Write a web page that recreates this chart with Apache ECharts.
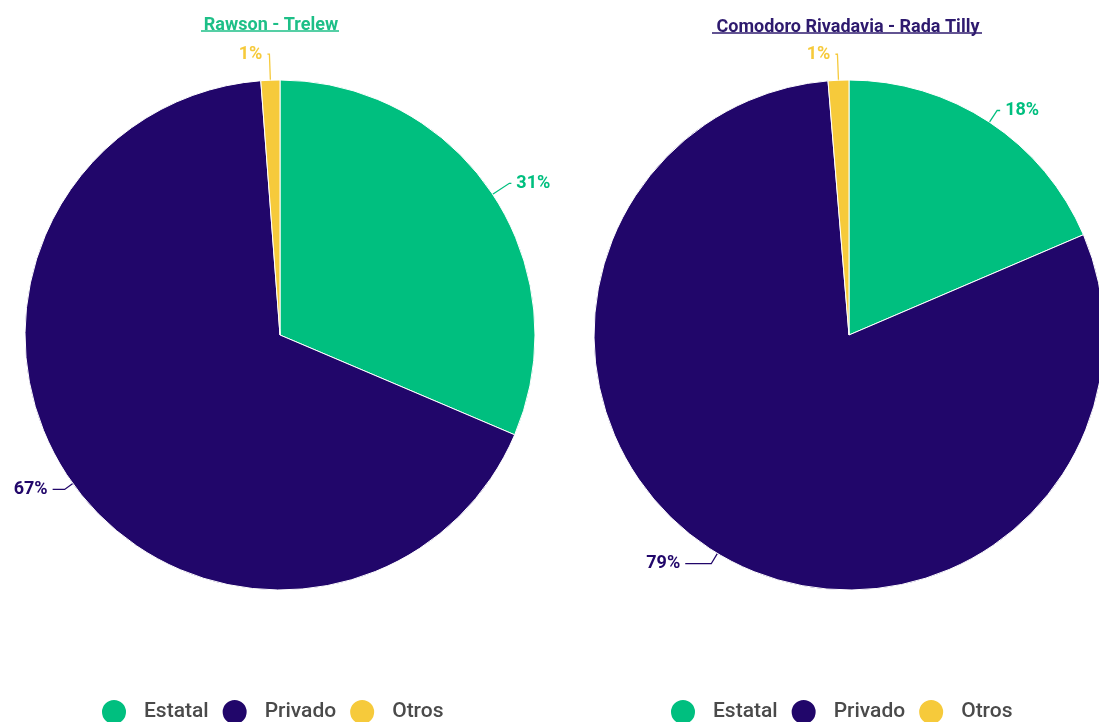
<!DOCTYPE html>
<html><head><meta charset="utf-8">
<script src="https://cdn.jsdelivr.net/npm/echarts@6/dist/echarts.min.js"></script>
<style>html,body{margin:0;padding:0;background:#fff}#c{width:1099px;height:722px}</style>
</head><body><div id="c"></div>
<script>
const categories = ['Estatal', 'Privado', 'Otros'];
const colors = ['#00BF7F', '#21066A', '#F6CA3B'];
const rawsonValues = [31.4, 67.4, 1.2];
const comodoroValues = [18.4, 79.4, 1.3];
const titles = ['Rawson - Trelew', 'Comodoro Rivadavia - Rada Tilly'];

const chart = echarts.init(document.getElementById('c'));
function mkData(vals, lines){
  return categories.map((n,i)=>({name:n, value:vals[i],
    itemStyle:{color:colors[i]},
    label:{color:colors[i]},
    labelLine:Object.assign({lineStyle:{color:colors[i]}}, lines[i])
  }));
}
const font = 'Roboto, sans-serif';
function mkSeries(vals, cx, lines){
  return {
    type:'pie', radius:255, center:[cx, 335], startAngle:90, clockwise:true,
    data: mkData(vals, lines),
    itemStyle:{borderColor:'#fff', borderWidth:1},
    label:{show:true, position:'outside', formatter:p=>Math.round(p.value)+'%',
      fontFamily:font, fontWeight:'bold', fontSize:18},
    labelLine:{show:true, length:14, length2:4, lineStyle:{width:1.3}},
    emphasis:{disabled:true}
  };
}
function mkLegend(left){
  return {data:categories, left:left, top:693, icon:'circle', itemWidth:50, itemHeight:26,
    itemGap:12, textStyle:{fontFamily:font, fontSize:21, fontWeight:500, color:'#4a4a4a'}};
}
chart.setOption({
  animation:false,
  title:[
    {text:titles[0], left:266, top:11, textAlign:'center',
     textStyle:{fontFamily:font, fontSize:18, fontWeight:'bold', color:'#1DBF87'}},
    {text:titles[1], left:843, top:13, textAlign:'center',
     textStyle:{fontFamily:font, fontSize:18, fontWeight:'bold', color:'#2E1A6E'}}
  ],
  graphic:[
    {type:'line', shape:{x1:201,y1:31,x2:339,y2:31}, style:{stroke:'#1DBF87', lineWidth:1.3}},
    {type:'line', shape:{x1:712,y1:33,x2:982,y2:33}, style:{stroke:'#2E1A6E', lineWidth:1.3}}
  ],
  legend:[mkLegend(95), mkLegend(664)],
  series:[
    mkSeries(rawsonValues, 280, [{length:20, length2:2}, {length:10, length2:12}, {length:26, length2:2}]),
    mkSeries(comodoroValues, 849, [{length:14, length2:3}, {length:12, length2:26}, {length:26, length2:2}])
  ]
});
</script></body></html>
